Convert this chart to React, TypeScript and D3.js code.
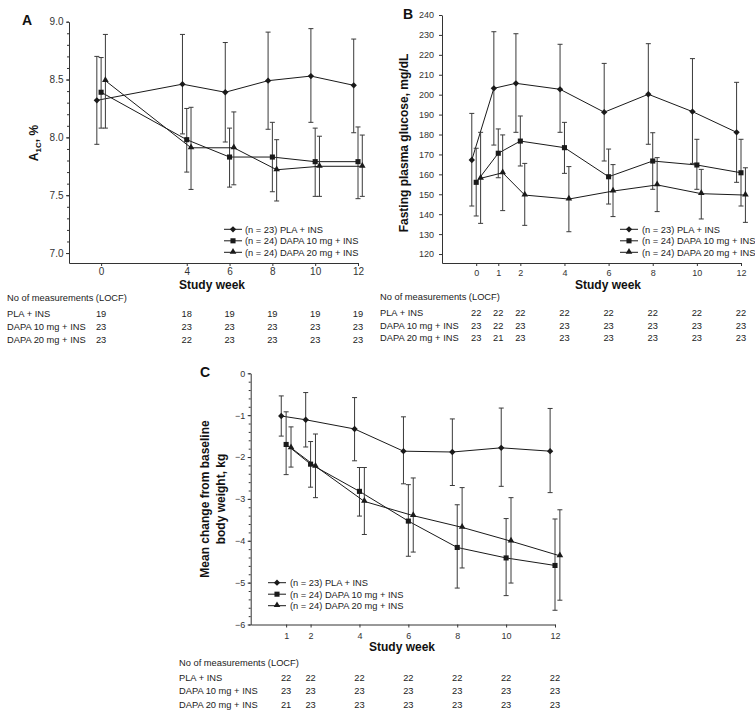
import * as d3 from 'd3'
import { useEffect, useRef } from 'react'

// Panel A: HbA1c (%)
const weeksA = [0, 4, 6, 8, 10, 12]
const plaA = [8.32, 8.46, 8.39, 8.49, 8.53, 8.45]
const plaAlo = [7.94, 8.03, 7.96, 8.07, 8.13, 8.04]
const plaAhi = [8.7, 8.89, 8.82, 8.91, 8.94, 8.85]
const d10A = [8.39, 7.98, 7.83, 7.83, 7.79, 7.79]
const d10Alo = [8.08, 7.7, 7.57, 7.53, 7.49, 7.47]
const d10Ahi = [8.69, 8.25, 8.08, 8.13, 8.08, 8.09]
const d20A = [8.49, 7.91, 7.91, 7.72, 7.75, 7.75]
const d20Alo = [8.08, 7.55, 7.59, 7.45, 7.49, 7.49]
const d20Ahi = [8.89, 8.26, 8.22, 7.98, 8.01, 8.02]
const nA = [
  [19, 18, 19, 19, 19, 19],
  [23, 23, 23, 23, 23, 23],
  [23, 22, 23, 23, 23, 23],
]

// Panel B: fasting plasma glucose (mg/dL)
const weeksB = [0, 1, 2, 4, 6, 8, 10, 12]
const plaB = [167.2, 203.2, 205.7, 202.7, 191.2, 200.2, 191.5, 181.1]
const plaBlo = [144.1, 174.7, 181.1, 181.1, 166.7, 175.1, 165.5, 156.0]
const plaBhi = [190.6, 231.6, 230.6, 225.3, 215.7, 225.6, 218.1, 206.2]
const d10B = [156.0, 170.6, 176.7, 173.4, 158.8, 166.7, 164.7, 160.8]
const d10Blo = [139.1, 158.3, 164.2, 160.5, 145.1, 152.5, 152.5, 144.1]
const d10Bhi = [173.1, 182.8, 189.3, 186.1, 172.7, 180.9, 177.6, 177.6]
const d20B = [158.0, 160.8, 149.6, 147.6, 151.6, 154.7, 150.3, 149.6]
const d20Blo = [135.4, 141.8, 134.4, 131.2, 138.8, 141.3, 137.6, 135.9]
const d20Bhi = [181.1, 179.8, 165.5, 163.9, 164.9, 168.4, 162.5, 163.3]
const nB = [
  [22, 22, 22, 22, 22, 22, 22, 22],
  [23, 22, 23, 23, 23, 23, 23, 23],
  [23, 21, 23, 23, 23, 23, 23, 23],
]

// Panel C: change in body weight (kg)
const weeksC = [1, 2, 4, 6, 8, 10, 12]
const plaC = [-1.02, -1.11, -1.33, -1.86, -1.88, -1.78, -1.86]
const plaClo = [-1.5, -1.76, -2.09, -2.64, -2.68, -2.7, -2.85]
const plaChi = [-0.54, -0.46, -0.58, -1.04, -1.09, -0.83, -0.84]
const d10C = [-1.7, -2.17, -2.82, -3.53, -4.16, -4.41, -4.59]
const d10Clo = [-2.42, -2.72, -3.41, -4.37, -5.13, -5.31, -5.66]
const d10Chi = [-0.92, -1.63, -2.25, -2.66, -3.14, -3.47, -3.48]
const d20C = [-1.78, -2.22, -3.06, -3.4, -3.68, -4.01, -4.36]
const d20Clo = [-2.24, -2.97, -3.85, -4.27, -4.65, -5.01, -5.42]
const d20Chi = [-1.28, -1.45, -2.25, -2.5, -2.73, -2.97, -3.26]
const nC = [
  [22, 22, 22, 22, 22, 22, 22],
  [23, 23, 23, 23, 23, 23, 23],
  [21, 23, 23, 23, 23, 23, 23],
]

const groupNames = ['PLA + INS', 'DAPA 10 mg + INS', 'DAPA 20 mg + INS']
const legendNames = ['(n = 23) PLA + INS', '(n = 24) DAPA 10 mg + INS', '(n = 24) DAPA 20 mg + INS']
const symbols = ['diamond', 'square', 'triangle']
const offsets = [-0.2, 0, 0.2]

const FONT = 'Liberation Sans, Arial, Helvetica, sans-serif'
const INK = '#1a1a1a'

function marker(g, kind, x, y) {
  if (kind === 'diamond') {
    g.append('path')
      .attr('d', d3.symbol(d3.symbolSquare, 20)())
      .attr('transform', `translate(${x},${y}) rotate(45)`)
      .attr('fill', INK)
  } else if (kind === 'square') {
    g.append('path')
      .attr('d', d3.symbol(d3.symbolSquare, 26)())
      .attr('transform', `translate(${x},${y})`)
      .attr('fill', INK)
  } else {
    g.append('path')
      .attr('d', d3.symbol(d3.symbolTriangle, 19)())
      .attr('transform', `translate(${x},${y - 0.5})`)
      .attr('fill', INK)
  }
}

function drawPanel(svg, p) {
  const x = d3.scaleLinear().domain(p.xDomain).range(p.xRange)
  const y = d3.scaleLinear().domain(p.yDomain).range(p.yRange)
  const g = svg.append('g').attr('font-family', FONT)

  // minor y ticks
  if (p.yMinor) {
    g.append('g')
      .attr('transform', `translate(${p.xRange[0]},0)`)
      .call(d3.axisLeft(y).tickValues(p.yMinor).tickSize(2).tickFormat(() => '').tickSizeOuter(0))
      .call((s) => s.select('.domain').remove())
      .call((s) => s.selectAll('line').attr('stroke', '#333'))
  }

  const ya = g.append('g')
    .attr('transform', `translate(${p.xRange[0]},0)`)
    .call(
      d3.axisLeft(y).tickValues(p.yTicks).tickSize(3).tickPadding(p.yPad)
        .tickSizeOuter(0).tickFormat(d3.format(p.yFmt))
    )
  ya.select('.domain').attr('stroke', '#333')
  ya.selectAll('line').attr('stroke', '#333')
  ya.selectAll('text').attr('font-size', p.tickFont).attr('fill', '#333').attr('font-family', FONT)

  const xa = g.append('g')
    .attr('transform', `translate(0,${p.yRange[0]})`)
    .call(d3.axisBottom(x).tickValues(p.xTicks).tickSize(3).tickPadding(p.xPad).tickSizeOuter(0))
  xa.select('.domain').attr('stroke', '#333')
  xa.selectAll('line').attr('stroke', '#333')
  xa.selectAll('text').attr('font-size', p.tickFont).attr('fill', '#333').attr('font-family', FONT)

  // series: error bars, lines, markers
  p.series.forEach((s, i) => {
    const sg = g.append('g')
    const pts = s.mean.map((m, k) => ({ wx: p.xTicks2[k] + offsets[i], m, lo: s.lo[k], hi: s.hi[k] }))
    pts.forEach((d) => {
      const cx = x(d.wx)
      sg.append('line').attr('x1', cx).attr('x2', cx).attr('y1', y(d.lo)).attr('y2', y(d.hi))
        .attr('stroke', '#3a3a3a').attr('stroke-width', 1)
      ;[d.lo, d.hi].forEach((v) => {
        sg.append('line').attr('x1', cx - 2.5).attr('x2', cx + 2.5).attr('y1', y(v)).attr('y2', y(v))
          .attr('stroke', '#3a3a3a').attr('stroke-width', 1)
      })
    })
    const line = d3.line().x((d) => x(d.wx)).y((d) => y(d.m))
    sg.append('path').datum(pts).attr('d', line).attr('fill', 'none').attr('stroke', INK).attr('stroke-width', 1)
    pts.forEach((d) => marker(sg, symbols[i], x(d.wx), y(d.m)))
  })

  // legend
  const lg = g.append('g')
  legendNames.forEach((name, i) => {
    const cy = p.legend.y + i * p.legend.dy
    lg.append('line').attr('x1', p.legend.x1).attr('x2', p.legend.x2).attr('y1', cy).attr('y2', cy)
      .attr('stroke', INK).attr('stroke-width', 1)
    marker(lg, symbols[i], (p.legend.x1 + p.legend.x2) / 2, cy)
    lg.append('text').attr('x', p.legend.tx).attr('y', cy + 3.3).attr('font-size', 9.3)
      .attr('fill', '#222').text(name)
  })

  // titles
  g.append('text').attr('x', p.letter[0]).attr('y', p.letter[1]).attr('font-size', 14)
    .attr('font-weight', 'bold').attr('fill', '#111').text(p.id)
  g.append('text').attr('x', p.xTitle[0]).attr('y', p.xTitle[1]).attr('text-anchor', 'middle')
    .attr('font-size', 12).attr('font-weight', 'bold').attr('fill', '#111').text('Study week')
  p.yTitle(g)

  // table of measurement counts
  const t = p.table
  g.append('text').attr('x', t.x).attr('y', t.header).attr('font-size', 9.3).attr('fill', '#222')
    .text('No of measurements (LOCF)')
  groupNames.forEach((name, i) => {
    g.append('text').attr('x', t.x).attr('y', t.rows[i]).attr('font-size', 9.3).attr('fill', '#222').text(name)
    p.counts[i].forEach((n, k) => {
      g.append('text').attr('x', x(p.xTicks2[k])).attr('y', t.rows[i]).attr('text-anchor', 'middle')
        .attr('font-size', 9.3).attr('fill', '#222').text(n)
    })
  })
}

export default function App() {
  const ref = useRef(null)
  useEffect(() => {
    const svg = d3.select(ref.current)
    svg.selectAll('*').remove()

    drawPanel(svg, {
      id: 'A',
      letter: [22, 25],
      xDomain: [-1.5, 12],
      xRange: [69, 358],
      yDomain: [6.914, 9],
      yRange: [263, 21.7],
      xTicks: weeksA,
      xTicks2: weeksA,
      yTicks: [7, 7.5, 8, 8.5, 9],
      yMinor: d3.range(70, 91).map((v) => v / 10),
      yFmt: '.1f',
      yPad: 2.5,
      xPad: 1.5,
      tickFont: 10,
      series: [
        { mean: plaA, lo: plaAlo, hi: plaAhi },
        { mean: d10A, lo: d10Alo, hi: d10Ahi },
        { mean: d20A, lo: d20Alo, hi: d20Ahi },
      ],
      counts: nA,
      legend: { x1: 224, x2: 242, tx: 245, y: 229.3, dy: 11.5 },
      xTitle: [212, 288.5],
      yTitle: (g) => {
        const t = g.append('text').attr('transform', 'translate(38,143) rotate(-90)')
          .attr('text-anchor', 'middle').attr('font-size', 12).attr('font-weight', 'bold').attr('fill', '#111')
        t.append('tspan').text('A')
        t.append('tspan').attr('font-size', 8).attr('dy', 3).text('1C')
        t.append('tspan').attr('dy', -3).text(', %')
      },
      table: { x: 7, header: 301, rows: [317, 330, 343] },
    })

    drawPanel(svg, {
      id: 'B',
      letter: [403, 19],
      xDomain: [-1.55, 12],
      xRange: [442, 741],
      yDomain: [115.5, 240],
      yRange: [263, 15],
      xTicks: weeksB,
      xTicks2: weeksB,
      yTicks: d3.range(120, 241, 10),
      yMinor: null,
      yFmt: 'd',
      yPad: 5,
      xPad: 4,
      tickFont: 9,
      series: [
        { mean: plaB, lo: plaBlo, hi: plaBhi },
        { mean: d10B, lo: d10Blo, hi: d10Bhi },
        { mean: d20B, lo: d20Blo, hi: d20Bhi },
      ],
      counts: nB,
      legend: { x1: 620, x2: 638, tx: 642, y: 229.3, dy: 11.5 },
      xTitle: [608, 288.5],
      yTitle: (g) => {
        g.append('text').attr('transform', 'translate(408,143) rotate(-90)')
          .attr('text-anchor', 'middle').attr('font-size', 12).attr('font-weight', 'bold').attr('fill', '#111')
          .text('Fasting plasma glucose, mg/dL')
      },
      table: { x: 380, header: 300, rows: [316, 328.5, 341] },
    })

    drawPanel(svg, {
      id: 'C',
      letter: [200, 377],
      xDomain: [-0.45, 12],
      xRange: [250.7, 555],
      yDomain: [-6, 0],
      yRange: [624.5, 373.3],
      xTicks: weeksC,
      xTicks2: weeksC,
      yTicks: d3.range(-6, 1, 1),
      yMinor: d3.range(-30, 1).map((v) => v / 5),
      yFmt: 'd',
      yPad: 2.5,
      xPad: 5,
      tickFont: 9,
      series: [
        { mean: plaC, lo: plaClo, hi: plaChi },
        { mean: d10C, lo: d10Clo, hi: d10Chi },
        { mean: d20C, lo: d20Clo, hi: d20Chi },
      ],
      counts: nC,
      legend: { x1: 268, x2: 286, tx: 290, y: 582.7, dy: 11.5 },
      xTitle: [402, 651],
      yTitle: (g) => {
        const t = g.append('text').attr('transform', 'translate(209,499) rotate(-90)')
          .attr('text-anchor', 'middle').attr('font-size', 12).attr('font-weight', 'bold').attr('fill', '#111')
        t.append('tspan').attr('x', 0).attr('dy', 0).text('Mean change from baseline')
        t.append('tspan').attr('x', 0).attr('dy', 16).text('body weight, kg')
      },
      table: { x: 179, header: 665.5, rows: [681, 694, 707.5] },
    })
  }, [])

  return (
    <svg
      ref={ref}
      width={755}
      height={716}
      style={{ position: 'absolute', left: 0, top: 0, background: '#fff' }}
    />
  )
}
